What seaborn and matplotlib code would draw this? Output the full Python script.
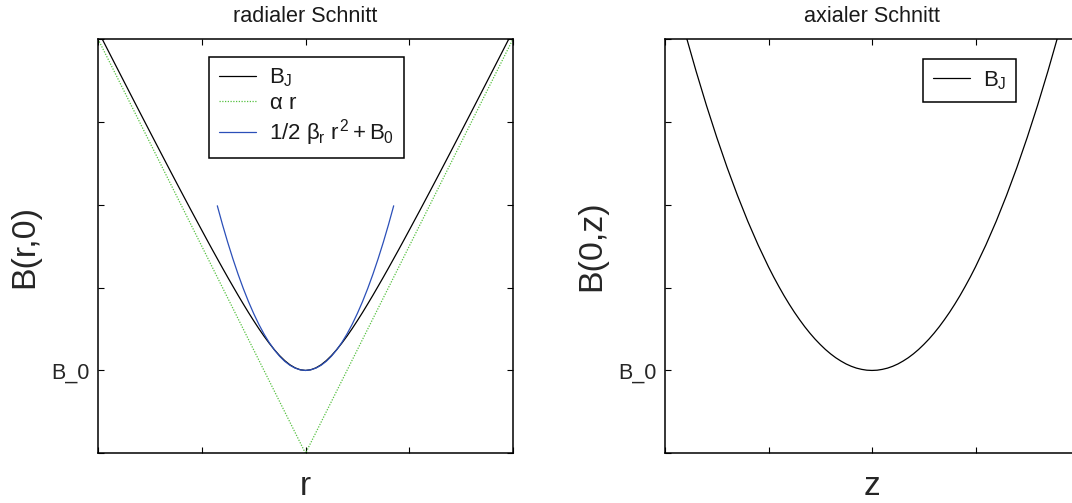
import matplotlib
matplotlib.use("Agg")
import matplotlib.pyplot as plt
import seaborn as sns

# ---- radial cut B(r,0) ----
r_bj = [-2.0, -1.9, -1.8, -1.7, -1.6, -1.5, -1.4, -1.3, -1.2, -1.1,
        -1.0, -0.95, -0.9, -0.85, -0.8, -0.75, -0.7, -0.65, -0.6, -0.55,
        -0.5, -0.45, -0.4, -0.35, -0.3, -0.25, -0.2, -0.15, -0.1, -0.05,
        0.0, 0.05, 0.1, 0.15, 0.2, 0.25, 0.3, 0.35, 0.4, 0.45,
        0.5, 0.55, 0.6, 0.65, 0.7, 0.75, 0.8, 0.85, 0.9, 0.95,
        1.0, 1.1, 1.2, 1.3, 1.4, 1.5, 1.6, 1.7, 1.8, 1.9, 2.0]
b_radial = [5.099, 4.854, 4.610, 4.366, 4.123, 3.881, 3.640, 3.400, 3.162, 2.926,
            2.693, 2.577, 2.462, 2.349, 2.236, 2.125, 2.016, 1.908, 1.803, 1.700,
            1.601, 1.505, 1.414, 1.329, 1.250, 1.179, 1.118, 1.068, 1.031, 1.008,
            1.000, 1.008, 1.031, 1.068, 1.118, 1.179, 1.250, 1.329, 1.414, 1.505,
            1.601, 1.700, 1.803, 1.908, 2.016, 2.125, 2.236, 2.349, 2.462, 2.577,
            2.693, 2.926, 3.162, 3.400, 3.640, 3.881, 4.123, 4.366, 4.610, 4.854, 5.099]

# asymptote alpha*|r|
r_lin = [-2.0, 0.0, 2.0]
b_lin = [5.0, 0.0, 5.0]

# quadratic approximation around r = 0
r_quad = [-0.85, -0.8, -0.75, -0.7, -0.65, -0.6, -0.55, -0.5, -0.45, -0.4,
          -0.35, -0.3, -0.25, -0.2, -0.15, -0.1, -0.05, 0.0, 0.05, 0.1,
          0.15, 0.2, 0.25, 0.3, 0.35, 0.4, 0.45, 0.5, 0.55, 0.6,
          0.65, 0.7, 0.75, 0.8, 0.85]
b_quad = [2.987, 2.760, 2.547, 2.348, 2.162, 1.990, 1.832, 1.688, 1.557, 1.440,
          1.337, 1.248, 1.172, 1.110, 1.062, 1.028, 1.007, 1.000, 1.007, 1.028,
          1.062, 1.110, 1.172, 1.248, 1.337, 1.440, 1.557, 1.688, 1.832, 1.990,
          2.162, 2.348, 2.547, 2.760, 2.987]

# ---- axial cut B(0,z) ----
z_bj = [-2.0, -1.9, -1.8, -1.7, -1.6, -1.5, -1.4, -1.3, -1.2, -1.1,
        -1.0, -0.95, -0.9, -0.85, -0.8, -0.75, -0.7, -0.65, -0.6, -0.55,
        -0.5, -0.45, -0.4, -0.35, -0.3, -0.25, -0.2, -0.15, -0.1, -0.05,
        0.0, 0.05, 0.1, 0.15, 0.2, 0.25, 0.3, 0.35, 0.4, 0.45,
        0.5, 0.55, 0.6, 0.65, 0.7, 0.75, 0.8, 0.85, 0.9, 0.95,
        1.0, 1.1, 1.2, 1.3, 1.4, 1.5, 1.6, 1.7, 1.8, 1.9, 2.0]
b_axial = [6.000, 5.513, 5.050, 4.613, 4.200, 3.813, 3.450, 3.113, 2.800, 2.513,
           2.250, 2.128, 2.013, 1.903, 1.800, 1.703, 1.613, 1.528, 1.450, 1.378,
           1.313, 1.253, 1.200, 1.153, 1.113, 1.078, 1.050, 1.028, 1.013, 1.003,
           1.000, 1.003, 1.013, 1.028, 1.050, 1.078, 1.113, 1.153, 1.200, 1.253,
           1.313, 1.378, 1.450, 1.528, 1.613, 1.703, 1.800, 1.903, 2.013, 2.128,
           2.250, 2.513, 2.800, 3.113, 3.450, 3.813, 4.200, 4.613, 5.050, 5.513, 6.000]

x_ticks = [-2, -1, 0, 1, 2]
y_ticks = [0, 1, 2, 3, 4, 5]
y_tick_labels = ["", "B_0", "", "", "", ""]

sns.set_theme(style="white")
plt.rcParams["font.family"] = ["Liberation Sans", "DejaVu Sans"]
plt.rcParams["mathtext.fontset"] = "custom"
plt.rcParams["mathtext.rm"] = "Liberation Sans"
plt.rcParams["mathtext.it"] = "Liberation Sans"
plt.rcParams["mathtext.bf"] = "Liberation Sans:bold"
plt.rcParams["axes.edgecolor"] = "black"
plt.rcParams["text.color"] = "#1a1a1a"

W, H = 1072, 503
fig = plt.figure(figsize=(W / 100, H / 100), dpi=100)
bottom = 1 - 453.3 / H
height = 414.3 / H
ax1 = fig.add_axes([98 / W, bottom, 415 / W, height])
ax2 = fig.add_axes([665 / W, bottom, 414 / W, height])

lw = 0.9
sns.lineplot(x=r_bj, y=b_radial, ax=ax1, color="black", linewidth=lw,
             sort=False, estimator=None, label=r"$B_J$")
sns.lineplot(x=r_lin, y=b_lin, ax=ax1, color="#55c040", linewidth=lw,
             dashes=False, linestyle=(0, (1, 1.2)), sort=False, estimator=None,
             label=r"$\alpha\ r$")
sns.lineplot(x=r_quad, y=b_quad, ax=ax1, color="#2b4fb8", linewidth=lw,
             sort=False, estimator=None, label=r"$1/2\ \beta_r\ r^2 + B_0$")
sns.lineplot(x=z_bj, y=b_axial, ax=ax2, color="black", linewidth=lw,
             sort=False, estimator=None, label=r"$B_J$")

for ax, title, xl, yl in [(ax1, "radialer Schnitt", "r", "B(r,0)"),
                          (ax2, "axialer Schnitt", "z", "B(0,z)")]:
    ax.set_xlim(-2, 2)
    ax.set_ylim(0, 5)
    ax.set_xticks(x_ticks)
    ax.set_xticklabels([""] * len(x_ticks))
    ax.set_yticks(y_ticks)
    ax.set_yticklabels(y_tick_labels, fontsize=15.5)
    ax.tick_params(direction="in", length=4, width=0.8, color="black",
                   top=True, right=True, bottom=True, left=True, pad=6)
    for s in ax.spines.values():
        s.set_linewidth(1.1)
        s.set_color("black")
    ax.set_title(title, fontsize=15.6, pad=12)
    ax.set_xlabel(xl, fontsize=24, labelpad=7)
    ax.set_ylabel(yl, fontsize=24.5, labelpad=8)
    ax.set_facecolor("white")

leg_kw = dict(loc="upper left", bbox_transform=fig.transFigure, borderaxespad=0,
              fancybox=False, framealpha=1, edgecolor="black", fontsize=16,
              handlelength=1.65, handletextpad=0.6, borderpad=0.45,
              labelspacing=0.15)
leg1 = ax1.legend(bbox_to_anchor=(209 / W, 1 - 56.7 / H), **leg_kw)
leg2 = ax2.legend(bbox_to_anchor=(923 / W, 1 - 59 / H), **leg_kw)
for leg in (leg1, leg2):
    leg.get_frame().set_linewidth(1.1)

fig.savefig("out.png", dpi=100, facecolor="white")
